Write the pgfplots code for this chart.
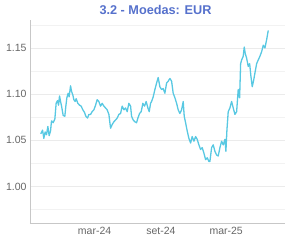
\documentclass[border=0pt]{standalone}
\usepackage{pgfplots}
\pgfplotsset{compat=1.18}
\usepackage{fontspec}
\setmainfont{Liberation Sans}
\definecolor{linec}{RGB}{88,200,226}
\definecolor{titlec}{RGB}{86,113,204}
\definecolor{tickc}{RGB}{102,102,102}
\begin{document}
\begin{tikzpicture}
\useasboundingbox (-30pt,-19.7pt) rectangle (255pt,223.3pt);
\begin{axis}[
  name=ax,
  at={(0pt,0pt)}, anchor=south west,
  scale only axis, width=255pt, height=203pt,
  xmin=-179, xmax=528, ymin=0.96, ymax=1.18,
  axis x line*=bottom, axis y line*=left,
  axis line style={draw=black!22, line width=0.8pt, -},
  xtick={0,184,365}, xticklabels={mar-24,set-24,mar-25},
  ytick={1.00,1.05,1.10,1.15},
  minor ytick={0.975,1.025,1.075,1.125,1.175},
  ymajorgrids, yminorgrids,
  major grid style={draw=black!8, line width=0.8pt},
  minor grid style={draw=black!5, line width=0.8pt},
  major tick length=0pt, minor tick length=0pt,
  tick label style={font=\fontsize{10.5}{12}\selectfont, text=tickc},
  /pgf/number format/assume math mode=true,
  yticklabel style={/pgf/number format/fixed, /pgf/number format/fixed zerofill, /pgf/number format/precision=2},
]
\addplot[linec, line width=1.3pt, line join=round] coordinates {
(-149.0,1.057) (-144.2,1.061) (-140.6,1.052) (-137.0,1.059) (-133.2,1.056)
(-129.5,1.065) (-125.9,1.055) (-122.1,1.060) (-119.3,1.071) (-114.8,1.069)
(-110.1,1.073) (-106.5,1.090) (-102.6,1.093) (-99.9,1.088) (-97.1,1.098)
(-94.3,1.092) (-91.5,1.087) (-87.1,1.077) (-82.4,1.076) (-79.6,1.087)
(-76.8,1.096) (-73.2,1.101) (-70.5,1.097) (-66.6,1.109) (-63.8,1.103)
(-60.2,1.099) (-57.4,1.094) (-53.8,1.092) (-51.0,1.095) (-46.3,1.090)
(-41.6,1.088) (-37.2,1.087) (-32.5,1.083) (-27.7,1.080) (-24.1,1.076)
(-19.4,1.074) (-15.8,1.078) (-11.1,1.078) (-6.7,1.081) (-1.9,1.083)
(2.8,1.088) (7.2,1.094) (11.9,1.092) (16.6,1.087) (21.1,1.090)
(25.8,1.087) (30.5,1.085) (35.0,1.083) (39.7,1.078) (44.4,1.063)
(48.8,1.067) (53.5,1.070) (58.3,1.072) (62.7,1.074) (67.4,1.078)
(72.1,1.079) (76.6,1.087) (81.3,1.083) (86.0,1.085) (90.4,1.081)
(95.1,1.090) (99.9,1.087) (102.6,1.076) (107.1,1.072) (111.8,1.070)
(116.5,1.069) (120.1,1.074) (124.8,1.079) (129.3,1.081) (134.0,1.090)
(138.7,1.087) (143.1,1.092) (147.9,1.085) (151.5,1.081) (155.3,1.090)
(158.1,1.092) (162.6,1.097) (167.3,1.105) (172.0,1.112) (176.4,1.118)
(181.1,1.108) (185.9,1.105) (190.3,1.106) (195.0,1.101) (199.7,1.112)
(204.2,1.114) (208.9,1.117) (213.6,1.114) (218.0,1.101) (222.8,1.096)
(227.5,1.090) (231.9,1.083) (236.6,1.079) (241.3,1.083) (245.8,1.092)
(248.6,1.076) (252.4,1.069) (256.9,1.060) (261.6,1.052) (266.3,1.047)
(270.7,1.054) (275.5,1.049) (280.2,1.054) (284.6,1.051) (289.3,1.045)
(294.0,1.040) (298.5,1.042) (303.2,1.036) (307.9,1.029) (312.4,1.031)
(317.1,1.027) (319.8,1.027) (324.6,1.042) (329.0,1.045) (333.7,1.038)
(338.4,1.034) (342.9,1.033) (347.6,1.042) (352.3,1.049) (356.7,1.045)
(361.5,1.051) (364.2,1.038) (367.0,1.061) (370.6,1.081) (375.3,1.085)
(380.0,1.092) (384.5,1.085) (389.2,1.078) (393.9,1.081) (398.3,1.105)
(402.2,1.096) (405.0,1.133) (407.8,1.137) (412.2,1.141) (415.0,1.151)
(417.8,1.144) (421.6,1.139) (426.1,1.130) (430.0,1.133) (433.6,1.119)
(437.2,1.108) (441.1,1.115) (444.7,1.123) (449.4,1.133) (453.8,1.137)
(458.5,1.141) (463.3,1.146) (467.7,1.153) (472.4,1.150) (477.1,1.159)
(481.6,1.169)
};
\end{axis}
\node[font=\bfseries\fontsize{12.7}{15}\selectfont, text=titlec, anchor=base]
  at ([xshift=125.5pt, yshift=6.2pt]ax.north west) {3.2 - Moedas: EUR};
\end{tikzpicture}
\end{document}
